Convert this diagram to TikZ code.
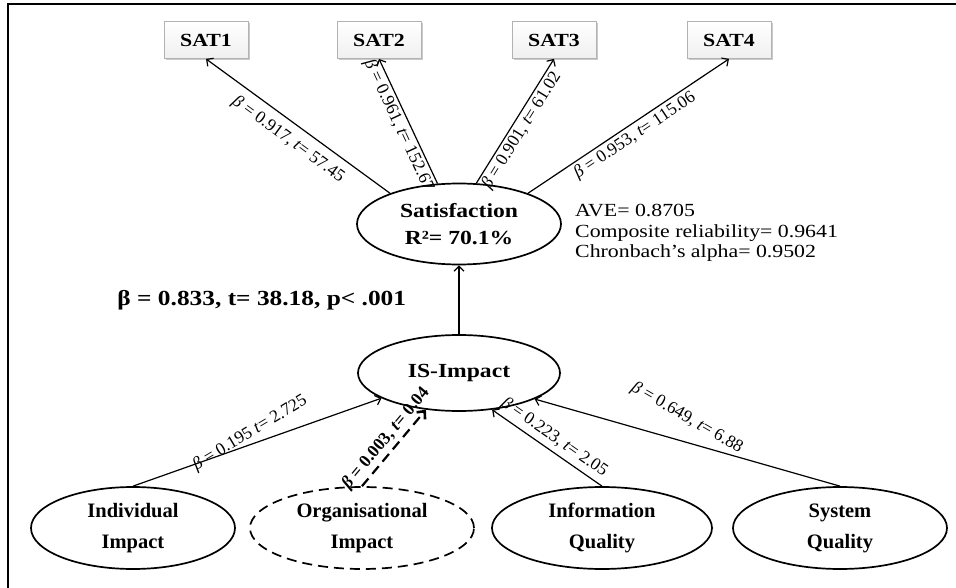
\documentclass[tikz,border=0pt]{standalone}
\usepackage{fontspec}
\setmainfont{Liberation Serif}
\newfontfamily\wideserif[FakeStretch=1.18]{Liberation Serif}
\usetikzlibrary{arrows.meta,shapes.geometric,shadows}

\begin{document}
\begin{tikzpicture}[x=1pt,y=-1pt,
  latent/.style={ellipse, draw, line width=1.7pt, inner sep=0pt, align=center,
    font=\fontsize{20.5}{31}\selectfont\bfseries},
  bigtext/.style={font=\wideserif\fontsize{20}{27}\selectfont\bfseries},
  indicator/.style={rectangle, draw=black!30, top color=white, bottom color=black!6, line width=0.8pt,
    minimum width=84pt, minimum height=37pt, inner sep=0pt,
    font=\wideserif\fontsize{18.5}{20}\selectfont\bfseries,
    drop shadow={shadow xshift=2pt, shadow yshift=-2pt, fill=black!35, opacity=0.6}},
  path/.style={draw, line width=1.2pt, -{Straight Barb[length=5pt,width=10pt,line width=1.2pt]}},
  weakpath/.style={draw, line width=2.2pt, dash pattern=on 10pt off 6pt,
    -{Straight Barb[length=6pt,width=11pt,line width=2.6pt]}},
  elab/.style={font=\fontsize{17.5}{17.5}\selectfont, inner sep=1pt},
  blab/.style={font=\fontsize{17.5}{17.5}\selectfont\bfseries, inner sep=1pt}
]
\useasboundingbox (0,0) rectangle (956,588);

% frame
\draw[line width=2pt] (8,588) -- (8,4) -- (956,4);

% indicators of satisfaction
\node[indicator] (s1) at (206,40) {SAT1};
\node[indicator] (s2) at (379,40) {SAT2};
\node[indicator] (s3) at (554,40) {SAT3};
\node[indicator] (s4) at (729,40) {SAT4};

% latent constructs
\node[latent, bigtext, minimum width=204pt, minimum height=81pt] (satis) at (459,224)
  {Satisfaction\\R²= 70.1\%};
\node[latent, bigtext, minimum width=202pt, minimum height=76pt] (isi) at (459,373)
  {IS-Impact};
\node[latent, minimum width=204pt, minimum height=82pt] (ind) at (133,528)
  {Individual\\Impact};
\node[latent, dash pattern=on 10pt off 6pt, minimum width=224pt, minimum height=82pt] (org) at (362,528)
  {Organisational\\Impact};
\node[latent, minimum width=220pt, minimum height=82pt] (inf) at (602,528)
  {Information\\Quality};
\node[latent, minimum width=214pt, minimum height=82pt] (sys) at (840,528)
  {System\\Quality};

% reliability of satisfaction
\node[anchor=west, align=left, inner sep=0pt, font=\wideserif\fontsize{18.5}{20.5}\selectfont] (rel) at (575,233)
  {AVE= 0.8705\\Composite reliability= 0.9641\\Chronbach’s alpha= 0.9502};

% loadings
\path[path] (satis.156) -- node[elab, sloped, below=7pt, pos=.5] {\textit{β} = 0.917, \textit{t}= 57.45} (s1.south);
\path[path] (satis.118) -- node[elab, sloped, below=1pt, pos=.5] {\textit{β} = 0.961, \textit{t}= 152.67} (s2.south);
\path[path] (satis.67) -- node[elab, sloped, below=1pt, pos=.47] {\textit{β} = 0.901, \textit{t}= 61.02} (s3.south);
\path[path] (satis.24) -- node[elab, sloped, below=2pt, pos=.5] {\textit{β} = 0.953, \textit{t}= 115.06} (s4.south);

% structural paths
\path[path] (isi.north) -- node[anchor=east, xshift=-49pt, font=\wideserif\fontsize{21.5}{22}\selectfont\bfseries]
  {β = 0.833, t= 38.18, p< .001} (satis.south);
\path[path] (ind.north) -- (isi.198)
  node[elab, rotate=31] at (250,433) {\textit{β} = 0.195 \textit{t}= 2.725};
\path[weakpath] (org.north) -- node[blab, sloped, above=2pt, pos=.52] {\textit{β} = 0.003, \textit{t}= 0.04} (isi.228);
\path[path] (inf.north) -- node[elab, sloped, above=3pt, pos=.5] {\textit{β} = 0.223, \textit{t}= 2.05} (isi.312);
\path[path] (sys.north) -- (isi.341)
  node[elab, rotate=-30] at (687,418) {\textit{β} = 0.649, \textit{t}= 6.88};
\end{tikzpicture}
\end{document}
